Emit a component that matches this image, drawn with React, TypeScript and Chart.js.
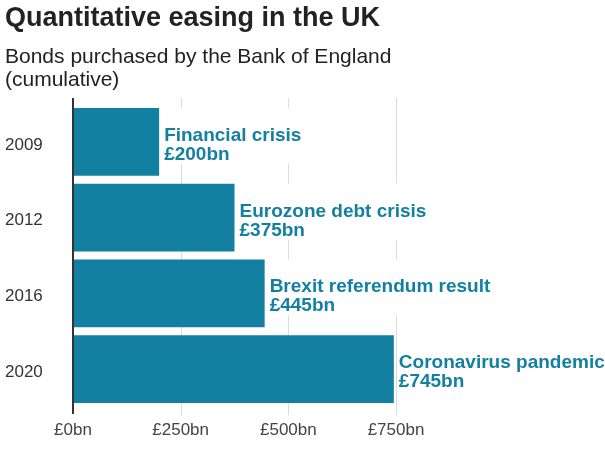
import React, { useEffect, useRef } from "react";
import { Chart, registerables } from "chart.js";

Chart.register(...registerables);

const categories = ["2009", "2012", "2016", "2020"];
const values = [200, 375, 445, 745];
const events = ["Financial crisis", "Eurozone debt crisis", "Brexit referendum result", "Coronavirus pandemic"];
const valueLabels = ["£200bn", "£375bn", "£445bn", "£745bn"];
const tickValues = [0, 250, 500, 750];
const tickLabels = ["£0bn", "£250bn", "£500bn", "£750bn"];

const FONT = "'Liberation Sans', Arial, Helvetica, sans-serif";
const TEAL = "#1380A1";

const overlayPlugin = {
  id: "qeOverlay",
  beforeDatasetsDraw(chart: any) {
    const { ctx, chartArea } = chart;
    const xs = chart.scales.x;
    ctx.save();
    ctx.strokeStyle = "#dcdcdc";
    ctx.lineWidth = 1;
    tickValues.forEach((v) => {
      if (v === 0) return;
      const px = Math.round(xs.getPixelForValue(v)) + 0.5;
      ctx.beginPath();
      ctx.moveTo(px, chartArea.top - 6);
      ctx.lineTo(px, chartArea.bottom + 8);
      ctx.stroke();
    });
    ctx.restore();
  },
  afterDatasetsDraw(chart: any) {
    const { ctx, chartArea } = chart;
    const xs = chart.scales.x;
    ctx.save();
    // zero line
    const x0 = xs.getPixelForValue(0);
    ctx.strokeStyle = "#333333";
    ctx.lineWidth = 2;
    ctx.beginPath();
    ctx.moveTo(x0, chartArea.top - 6);
    ctx.lineTo(x0, chartArea.bottom + 7);
    ctx.stroke();

    // bar labels
    const meta = chart.getDatasetMeta(0);
    ctx.font = `bold 19px ${FONT}`;
    meta.data.forEach((bar: any, i: number) => {
      const x = bar.x + 5;
      const cy = bar.y;
      const top = cy - bar.height / 2;
      const w = Math.max(ctx.measureText(events[i]).width, ctx.measureText(valueLabels[i]).width);
      ctx.fillStyle = "#ffffff";
      ctx.fillRect(x - 1, top, w + 4, cy + 22 - top);
      ctx.fillStyle = TEAL;
      ctx.textAlign = "left";
      ctx.textBaseline = "alphabetic";
      ctx.fillText(events[i], x, cy - 1);
      ctx.fillText(valueLabels[i], x, cy + 18);
    });
    ctx.restore();
  },
};

export default function App() {
  const canvasRef = useRef<HTMLCanvasElement | null>(null);

  useEffect(() => {
    if (!canvasRef.current) return;
    const chart = new Chart(canvasRef.current, {
      type: "bar",
      data: {
        labels: categories,
        datasets: [
          {
            data: values,
            backgroundColor: TEAL,
            borderWidth: 0,
            barPercentage: 0.895,
            categoryPercentage: 1,
          },
        ],
      },
      options: {
        indexAxis: "y",
        animation: false,
        responsive: false,
        maintainAspectRatio: false,
        layout: { padding: { left: 5, top: 104, right: 209, bottom: 0 } },
        plugins: {
          legend: { display: false },
          tooltip: { enabled: false },
          title: { display: false },
        },
        scales: {
          x: {
            min: 0,
            max: 750,
            grid: { display: false, drawTicks: false },
            border: { display: false },
            afterBuildTicks: (scale: any) => {
              scale.ticks = tickValues.map((v) => ({ value: v }));
            },
            afterFit: (scale: any) => {
              scale.height = 42;
            },
            ticks: {
              padding: 13,
              color: "#444444",
              font: { family: FONT, size: 17 },
              maxRotation: 0,
              autoSkip: false,
              callback: (value: any) => {
                const idx = tickValues.indexOf(Number(value));
                return idx >= 0 ? tickLabels[idx] : "";
              },
            },
          },
          y: {
            grid: { display: false, drawTicks: false },
            border: { display: false },
            afterFit: (scale: any) => {
              scale.width = 68;
            },
            ticks: {
              crossAlign: "far",
              padding: 0,
              labelOffset: 3,
              color: "#333333",
              font: { family: FONT, size: 17 },
            },
          },
        },
      },
      plugins: [overlayPlugin],
    } as any);
    return () => chart.destroy();
  }, []);

  return (
    <div style={{ position: "absolute", left: 0, top: 0, width: 605, height: 449, background: "#ffffff", overflow: "hidden" }}>
      <canvas ref={canvasRef} width={605} height={449} style={{ position: "absolute", left: 0, top: 0, width: 605, height: 449 }} />
      <div
        style={{
          position: "absolute",
          left: 5,
          top: 2,
          font: `bold 27px/31px ${FONT}`,
          color: "#222222",
          whiteSpace: "nowrap",
        }}
      >
        Quantitative easing in the UK
      </div>
      <div
        style={{
          position: "absolute",
          left: 5,
          top: 44,
          font: `21px/23px ${FONT}`,
          color: "#222222",
          whiteSpace: "nowrap",
        }}
      >
        Bonds purchased by the Bank of England
        <br />
        (cumulative)
      </div>
    </div>
  );
}
